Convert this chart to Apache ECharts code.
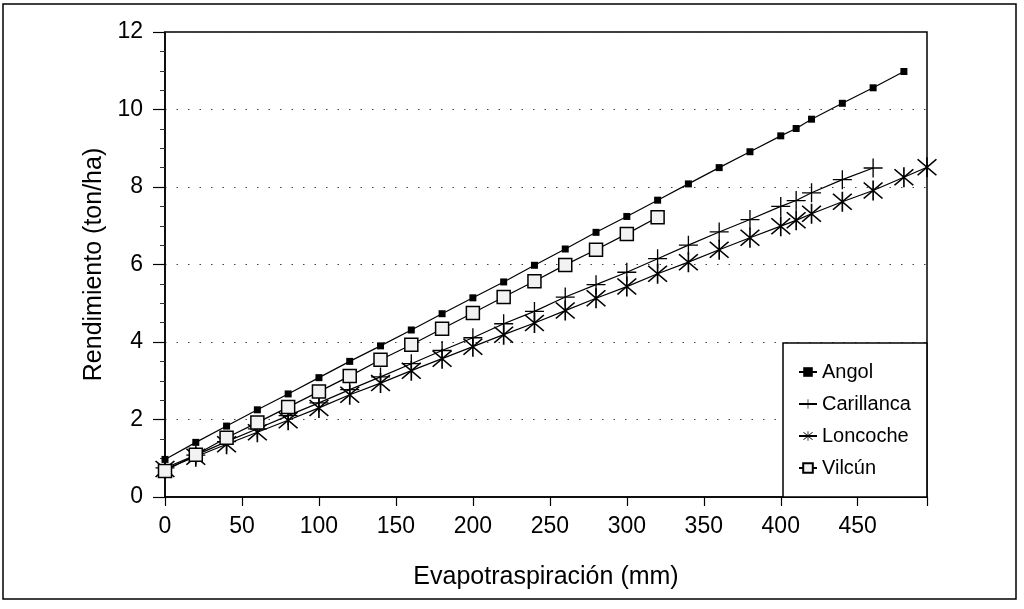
<!DOCTYPE html>
<html>
<head>
<meta charset="utf-8">
<script src="https://cdn.jsdelivr.net/npm/echarts@6/dist/echarts.min.js"></script>
<style>
  html, body { margin: 0; padding: 0; background: #fff; }
  #chart { width: 1024px; height: 609px; }
</style>
</head>
<body>
<div id="chart"></div>
<script>
// valores
var angolX = [0, 20, 40, 60, 80, 100, 120, 140, 160, 180, 200, 220, 240, 260, 280, 300, 320, 340, 360, 380, 400, 410, 420, 440, 460, 480];
var angolY = [0.97, 1.41, 1.83, 2.25, 2.66, 3.08, 3.5, 3.9, 4.31, 4.73, 5.14, 5.55, 5.98, 6.4, 6.83, 7.24, 7.66, 8.08, 8.5, 8.91, 9.32, 9.51, 9.75, 10.16, 10.56, 10.98];

var carillancaX = [0, 20, 40, 60, 80, 100, 120, 140, 160, 180, 200, 220, 240, 260, 280, 300, 320, 340, 360, 380, 400, 410, 420, 440, 460];
var carillancaY = [0.75, 1.08, 1.43, 1.76, 2.1, 2.43, 2.77, 3.1, 3.44, 3.78, 4.11, 4.47, 4.79, 5.16, 5.48, 5.8, 6.15, 6.5, 6.84, 7.16, 7.5, 7.65, 7.85, 8.19, 8.49];

var loncocheX = [0, 20, 40, 60, 80, 100, 120, 140, 160, 180, 200, 220, 240, 260, 280, 300, 320, 340, 360, 380, 400, 410, 420, 440, 460, 480, 495];
var loncocheY = [0.72, 1.04, 1.36, 1.67, 1.98, 2.3, 2.64, 2.94, 3.26, 3.57, 3.88, 4.19, 4.49, 4.81, 5.13, 5.43, 5.76, 6.06, 6.38, 6.69, 6.99, 7.14, 7.31, 7.62, 7.91, 8.25, 8.51];

var vilcunX = [0, 20, 40, 60, 80, 100, 120, 140, 160, 180, 200, 220, 240, 260, 280, 300, 320];
var vilcunY = [0.67, 1.09, 1.53, 1.92, 2.32, 2.72, 3.12, 3.54, 3.93, 4.34, 4.75, 5.16, 5.57, 5.99, 6.38, 6.79, 7.22];

var xTicks = [0, 50, 100, 150, 200, 250, 300, 350, 400, 450];

function pares(xs, ys) {
  return xs.map(function (x, i) { return [x, ys[i]]; });
}

// simbolos: cruz y asterisco como poligonos finos
var plusPath = 'path://M9.3,0H10.7V20H9.3Z M0,9.3H20V10.7H0Z';
var starPath = 'path://M9.3,0H10.7V20H9.3Z M2.5,1.5L18.5,17.5L17.5,18.5L1.5,2.5Z M17.5,1.5L18.5,2.5L2.5,18.5L1.5,17.5Z';

var fuente = 'Liberation Sans, Arial, sans-serif';
var chart = echarts.init(document.getElementById('chart'));

function serie(nombre, datos, simbolo, tam, relleno) {
  return {
    name: nombre,
    type: 'line',
    data: datos,
    symbol: simbolo,
    symbolSize: tam,
    showAllSymbol: true,
    clip: false,
    lineStyle: { color: '#000', width: 1.2 },
    itemStyle: { color: relleno, borderColor: '#000', borderWidth: simbolo === 'rect' && relleno !== '#000' ? 1.5 : 0 },
    emphasis: { disabled: true },
    animation: false
  };
}

var option = {
  backgroundColor: '#fff',
  animation: false,
  textStyle: { fontFamily: fuente, color: '#000' },
  grid: {
    left: 165, top: 32, right: 97, bottom: 112,
    show: true, borderColor: '#000', borderWidth: 1.5
  },
  graphic: [{
    type: 'rect',
    shape: { x: 3, y: 4, width: 1013, height: 595 },
    style: { fill: 'none', stroke: '#000', lineWidth: 1.5 },
    silent: true
  }],
  legend: {
    orient: 'vertical',
    left: 783, top: 343,
    padding: [19, 16, 19, 15],
    itemGap: 12,
    itemWidth: 18,
    itemHeight: 12,
    backgroundColor: '#fff',
    borderColor: '#000',
    borderWidth: 1.5,
    textStyle: { fontFamily: fuente, fontSize: 20, color: '#000' },
    data: ['Angol', 'Carillanca', 'Loncoche', 'Vilcún']
  },
  xAxis: {
    type: 'value',
    min: 0, max: 495, interval: 50,
    name: 'Evapotraspiración (mm)',
    nameLocation: 'middle',
    nameGap: 68,
    nameTextStyle: { fontFamily: fuente, fontSize: 25, color: '#000' },
    axisLine: { show: true, onZero: false, lineStyle: { color: '#000', width: 1.5 } },
    axisTick: { show: true, length: 9, lineStyle: { color: '#000', width: 1.2 } },
    axisLabel: {
      margin: 18, fontSize: 23, color: '#000', fontFamily: fuente,
      formatter: function (v) { return xTicks.indexOf(v) >= 0 ? String(v) : ''; }
    },
    splitLine: { show: false }
  },
  yAxis: {
    type: 'value',
    min: 0, max: 12, interval: 2,
    name: 'Rendimiento (ton/ha)',
    nameLocation: 'middle',
    nameGap: 55,
    nameTextStyle: { fontFamily: fuente, fontSize: 25, color: '#000' },
    axisLine: { show: true, lineStyle: { color: '#000', width: 1.5 } },
    axisTick: { show: true, length: 12, lineStyle: { color: '#000', width: 1.2 } },
    minorTick: { show: true, splitNumber: 4, length: 5, lineStyle: { color: '#333', width: 1 } },
    axisLabel: { margin: 22, fontSize: 23, color: '#000', fontFamily: fuente },
    splitLine: { show: true, lineStyle: { color: '#444', width: 1.2, type: [1.5, 10] } }
  },
  series: [
    serie('Angol', pares(angolX, angolY), 'rect', 7, '#000'),
    serie('Carillanca', pares(carillancaX, carillancaY), plusPath, 19, '#000'),
    serie('Loncoche', pares(loncocheX, loncocheY), starPath, 20, '#000'),
    serie('Vilcún', pares(vilcunX, vilcunY), 'rect', 13, '#f2f2f2')
  ]
};

chart.setOption(option);
</script>
</body>
</html>
